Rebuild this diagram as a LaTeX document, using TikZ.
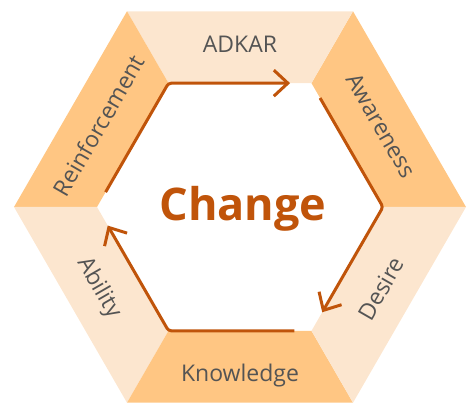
\documentclass[tikz,border=0pt]{standalone}
\usepackage{fontspec}
\setmainfont{Open Sans}
\usetikzlibrary{arrows.meta, calc}

\definecolor{segLight}{RGB}{252,230,207}
\definecolor{segDark}{RGB}{255,198,131}
\definecolor{rust}{RGB}{192,84,10}
\definecolor{labelGray}{RGB}{84,84,84}

\tikzset{
	seglabel/.style={text=labelGray, font=\fontsize{23}{26}\selectfont},
	cyclearrow/.style={draw=rust, line width=3pt, rounded corners=3pt,
		-{Straight Barb[length=14pt, width=26pt]}},
}

\begin{document}
\begin{tikzpicture}[x=1pt, y=1pt]
	\useasboundingbox (-240, -196) rectangle (229, 207);

	% outer and inner hexagon corners
	\foreach \k in {0,...,5} {
		\coordinate (o\k) at ({60*\k}:226);
		\coordinate (i\k) at ({60*\k}:143);
	}

	% ring segments
	\fill[segDark] (o0) -- (o1) -- (i1) -- (i0) -- cycle;
	\fill[segLight] (o1) -- (o2) -- (i2) -- (i1) -- cycle;
	\fill[segDark] (o2) -- (o3) -- (i3) -- (i2) -- cycle;
	\fill[segLight] (o3) -- (o4) -- (i4) -- (i3) -- cycle;
	\fill[segDark] (o4) -- (o5) -- (i5) -- (i4) -- cycle;
	\fill[segLight] (o5) -- (o0) -- (i0) -- (i5) -- cycle;

	\node[seglabel] (adkar) at (90:163) {ADKAR};
	\node[seglabel, rotate=-60] (awareness) at (30:163) {Awareness};
	\node[seglabel, rotate=60] (desire) at (-30:163) {Desire};
	\node[seglabel] (knowledge) at (-90:169) {Knowledge};
	\node[seglabel, rotate=-60] (ability) at (210:163) {Ability};
	\node[seglabel, rotate=60] (reinforcement) at (150:163) {Reinforcement};

	\node[text=rust, font=\fontsize{45}{50}\selectfont\bfseries] (change) at (3, -2) {Change};

	% arrows round the inner hexagon
	\draw[cyclearrow] ($(i3)!0.12!(i2)$) -- (i2) -- ($(i2)!0.85!(i1)$);
	\draw[cyclearrow] ($(i1)!0.12!(i0)$) -- (i0) -- ($(i0)!0.85!(i5)$);
	\draw[cyclearrow] ($(i5)!0.12!(i4)$) -- (i4) -- ($(i4)!0.85!(i3)$);
\end{tikzpicture}
\end{document}
